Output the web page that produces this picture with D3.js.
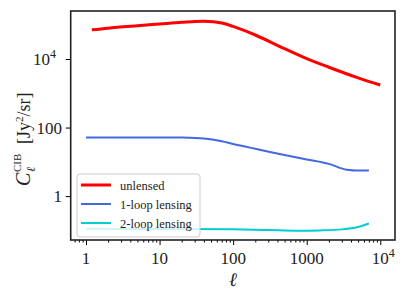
<!DOCTYPE html>
<html>
<head>
<meta charset="utf-8">
<script src="https://cdn.jsdelivr.net/npm/d3@7"></script>
<style>
  body { margin: 0; background: #fff; }
  svg { display: block; }
  svg text { font-family: "Liberation Serif", "DejaVu Serif", serif; }
</style>
</head>
<body>
<svg id="chart" width="407" height="297"></svg>
<script>
// multipoles + log10 of C_ell
const ellUnlensed = [1.2, 2, 5, 10, 20, 40, 70, 100, 200, 500, 1000, 2000, 5000, 10000]
const logUnlensed = [4.85, 4.90, 4.97, 5.02, 5.07, 5.10, 5.05, 4.95, 4.70, 4.30, 4.01, 3.76, 3.45, 3.24]
const ellOneLoop = [1, 2, 5, 10, 20, 40, 70, 100, 200, 500, 1000, 2000, 3500, 7000]
const logOneLoop = [1.71, 1.71, 1.71, 1.71, 1.71, 1.68, 1.60, 1.52, 1.38, 1.20, 1.07, 0.94, 0.77, 0.75]
const ellTwoLoop = [1, 10, 100, 300, 700, 1500, 3000, 5000, 7000]
const logTwoLoop = [-0.95, -0.96, -0.97, -0.99, -1.01, -1.00, -0.97, -0.90, -0.80]

const seriesNames = ['unlensed', '1-loop lensing', '2-loop lensing']
const xTickValues = [1, 10, 100, 1000, 10000]
const yTickValues = [1, 100, 10000]

const FONT = '"Liberation Serif", "DejaVu Serif", serif'
const plot = { left: 70.7, right: 395, top: 11, bottom: 240 }

const svg = d3.select('#chart').attr('font-family', FONT)

const x = d3.scaleLog()
  .domain([Math.pow(10, -0.208), Math.pow(10, 4.2)])
  .range([plot.left, plot.right])
const y = d3.scaleLog()
  .domain([Math.pow(10, -1.28), Math.pow(10, 5.4)])
  .range([plot.bottom, plot.top])

const series = [
  { name: seriesNames[0], color: '#ff0000', width: 3, pts: ellUnlensed.map((l, i) => [l, Math.pow(10, logUnlensed[i])]) },
  { name: seriesNames[1], color: '#4169e1', width: 2, pts: ellOneLoop.map((l, i) => [l, Math.pow(10, logOneLoop[i])]) },
  { name: seriesNames[2], color: '#00ced1', width: 2, pts: ellTwoLoop.map((l, i) => [l, Math.pow(10, logTwoLoop[i])]) }
]

const line = d3.line()
  .x(d => x(d[0]))
  .y(d => y(d[1]))
  .curve(d3.curveCatmullRom.alpha(0.5))

svg.append('defs').append('clipPath').attr('id', 'clip')
  .append('rect')
  .attr('x', plot.left).attr('y', plot.top)
  .attr('width', plot.right - plot.left).attr('height', plot.bottom - plot.top)

svg.append('g').attr('clip-path', 'url(#clip)')
  .selectAll('path')
  .data(series)
  .join('path')
  .attr('d', d => line(d.pts))
  .attr('fill', 'none')
  .attr('stroke', d => d.color)
  .attr('stroke-width', d => d.width)
  .attr('stroke-linejoin', 'round')

// x axis: majors + minors
const xMinor = []
for (let e = -1; e <= 4; e++) {
  for (let m = 2; m <= 9; m++) {
    const v = m * Math.pow(10, e)
    if (v > x.domain()[0] && v < x.domain()[1]) xMinor.push(v)
  }
}
const gx = svg.append('g').attr('transform', `translate(0,${plot.bottom})`)
gx.call(d3.axisBottom(x).tickValues(xTickValues).tickSize(5).tickFormat(''))
gx.append('g').call(d3.axisBottom(x).tickValues(xMinor).tickSize(2.5).tickFormat(''))
gx.selectAll('.domain').remove()
gx.selectAll('line').attr('stroke', '#000').attr('stroke-width', 1)

const fmtTick = (g, v) => {
  const e = Math.round(Math.log10(v))
  if (e >= 4) {
    g.append('tspan').text('10')
    g.append('tspan').text(e).attr('font-size', 12).attr('dy', -7)
  } else {
    g.text(v)
  }
}

svg.append('g')
  .selectAll('text')
  .data(xTickValues)
  .join('text')
  .attr('x', d => x(d) + (d >= 10000 ? 3 : 0))
  .attr('y', 264)
  .attr('text-anchor', 'middle')
  .attr('font-family', FONT)
  .attr('font-size', 17)
  .attr('fill', '#222')
  .each(function (d) { fmtTick(d3.select(this), d) })

const gy = svg.append('g').attr('transform', `translate(${plot.left},0)`)
gy.call(d3.axisLeft(y).tickValues(yTickValues).tickSize(5).tickFormat(''))
gy.selectAll('.domain').remove()
gy.selectAll('line').attr('stroke', '#000').attr('stroke-width', 1)

svg.append('g')
  .selectAll('text')
  .data(yTickValues)
  .join('text')
  .attr('x', d => d >= 10000 ? 56 : 62)
  .attr('y', d => y(d) + 6)
  .attr('text-anchor', 'end')
  .attr('font-family', FONT)
  .attr('font-size', 17)
  .attr('fill', '#222')
  .each(function (d) { fmtTick(d3.select(this), d) })

// frame
svg.append('rect')
  .attr('x', plot.left).attr('y', plot.top)
  .attr('width', plot.right - plot.left).attr('height', plot.bottom - plot.top)
  .attr('fill', 'none').attr('stroke', '#222').attr('stroke-width', 1.6)

// axis labels
svg.append('text')
  .attr('x', (plot.left + plot.right) / 2).attr('y', 286)
  .attr('text-anchor', 'middle')
  .attr('font-family', FONT)
  .attr('font-size', 19).attr('font-style', 'italic')
  .attr('fill', '#222')
  .text('ℓ')

const yl = svg.append('g').attr('transform', 'translate(30,186) rotate(-90)').attr('fill', '#222').attr('font-family', FONT)
yl.append('text').attr('x', 0).attr('y', 0).attr('font-size', 20).attr('font-style', 'italic').text('C')
yl.append('text').attr('x', 14).attr('y', -9).attr('font-size', 11).text('CIB')
yl.append('text').attr('x', 14).attr('y', 5).attr('font-size', 12).attr('font-style', 'italic').text('ℓ')
const ylt = yl.append('text').attr('x', 42).attr('y', 0).attr('font-size', 18)
ylt.append('tspan').text('[Jy')
ylt.append('tspan').text('2').attr('font-size', 11).attr('dy', -7)
ylt.append('tspan').text('/sr]').attr('dy', 7)

// legend
const legend = svg.append('g')
legend.append('rect')
  .attr('x', 77).attr('y', 174).attr('width', 123).attr('height', 63).attr('rx', 3)
  .attr('fill', 'rgba(255,255,255,0.8)').attr('stroke', '#ccc').attr('stroke-width', 1)
const item = legend.selectAll('g.item')
  .data(series)
  .join('g')
  .attr('class', 'item')
  .attr('transform', (d, i) => `translate(0,${185 + i * 19})`)
item.append('line')
  .attr('x1', 81).attr('x2', 111)
  .attr('stroke', d => d.color).attr('stroke-width', d => d.width)
item.append('text')
  .attr('x', 120).attr('y', 4.5)
  .attr('font-family', FONT)
  .attr('font-size', 12.5).attr('fill', '#222')
  .text(d => d.name)
</script>
</body>
</html>
